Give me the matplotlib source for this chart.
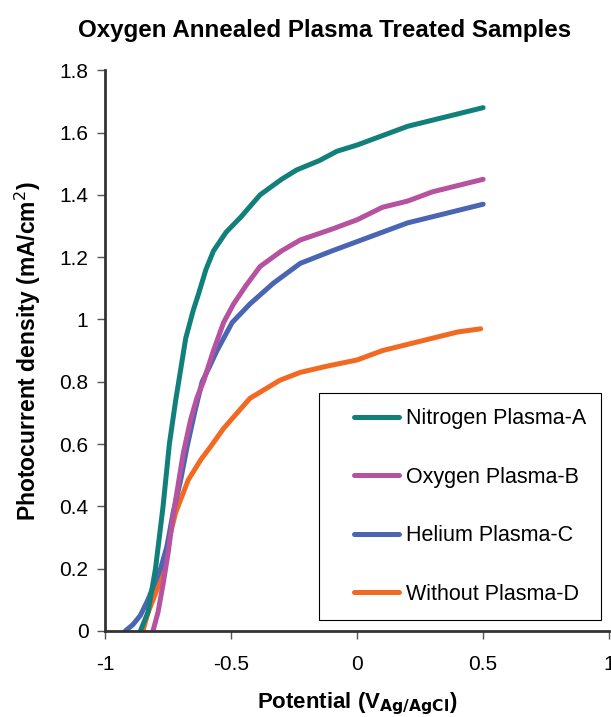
"""Photocurrent vs potential for oxygen annealed, plasma treated samples."""
import matplotlib

matplotlib.use('Agg')
import matplotlib.pyplot as plt
import numpy as np
from matplotlib.legend_handler import HandlerLine2D

plt.rcParams['font.family'] = ['Liberation Sans', 'DejaVu Sans']

# values (potential in V, current in mA/cm2)
nitrogen_x = [-0.86, -0.83, -0.80, -0.77, -0.745, -0.72, -0.70, -0.68, -0.65, -0.63,
              -0.60, -0.57, -0.52, -0.46, -0.385, -0.30, -0.24, -0.15, -0.08, 0.00,
              0.10, 0.20, 0.30, 0.40, 0.50]
nitrogen_y = [0.00, 0.06, 0.20, 0.40, 0.60, 0.74, 0.84, 0.94, 1.03, 1.08,
              1.16, 1.22, 1.28, 1.33, 1.40, 1.45, 1.48, 1.51, 1.54, 1.56,
              1.59, 1.62, 1.64, 1.66, 1.68]

oxygen_x = [-0.81, -0.79, -0.77, -0.75, -0.73, -0.71, -0.69, -0.66, -0.635, -0.61,
            -0.57, -0.53, -0.49, -0.44, -0.385, -0.30, -0.226, -0.10, 0.00, 0.10,
            0.20, 0.30, 0.40, 0.50]
oxygen_y = [0.00, 0.06, 0.15, 0.25, 0.37, 0.47, 0.57, 0.68, 0.75, 0.80,
            0.90, 0.99, 1.05, 1.11, 1.17, 1.22, 1.255, 1.29, 1.32, 1.36,
            1.38, 1.41, 1.43, 1.45]

helium_x = [-0.92, -0.89, -0.86, -0.83, -0.80, -0.78, -0.755, -0.73, -0.70, -0.675,
            -0.645, -0.615, -0.585, -0.556, -0.496, -0.425, -0.333, -0.226, -0.10, 0.00,
            0.10, 0.20, 0.30, 0.40, 0.50]
helium_y = [0.00, 0.02, 0.05, 0.10, 0.16, 0.20, 0.27, 0.38, 0.485, 0.59,
            0.70, 0.80, 0.85, 0.90, 0.99, 1.05, 1.116, 1.18, 1.22, 1.25,
            1.28, 1.31, 1.33, 1.35, 1.37]

without_x = [-0.85, -0.83, -0.80, -0.78, -0.754, -0.72, -0.67, -0.62, -0.583, -0.53,
             -0.476, -0.425, -0.306, -0.226, -0.12, 0.00, 0.10, 0.20, 0.30, 0.40,
             0.49]
without_y = [0.00, 0.058, 0.12, 0.164, 0.27, 0.38, 0.485, 0.55, 0.59, 0.65,
             0.70, 0.747, 0.805, 0.83, 0.85, 0.87, 0.90, 0.92, 0.94, 0.96,
             0.97]

labels = ['Nitrogen Plasma-A', 'Oxygen Plasma-B', 'Helium Plasma-C', 'Without Plasma-D']
colors = ['#12807a', '#b6529f', '#4a66b2', '#f26a22']


class ShiftedLine(HandlerLine2D):
    # legend line starts a bit in from the frame, like the original
    def get_xdata(self, legend, xdescent, ydescent, width, height, fontsize):
        xdata = np.array([-xdescent + 0.31 * width, -xdescent + width])
        return xdata, np.array([-xdescent + 0.65 * width])


fig = plt.figure(figsize=(6.11, 7.17), dpi=100)
ax = fig.add_axes([0.172, 0.120, 0.825, 0.782])

series = [(nitrogen_x, nitrogen_y), (oxygen_x, oxygen_y),
          (helium_x, helium_y), (without_x, without_y)]
# draw in reverse so teal sits on top like the original
for (xs, ys), lab, c in reversed(list(zip(series, labels, colors))):
    ax.plot(xs, ys, color=c, lw=3.6, label=lab, solid_capstyle='round',
            solid_joinstyle='round')

ax.set_xlim(-1, 1)
ax.set_ylim(0, 1.8)
ax.set_xticks([-1, -0.5, 0, 0.5, 1])
ax.set_xticklabels(['-1', '-0.5', '0', '0.5', '1'])
ax.set_yticks([0, 0.2, 0.4, 0.6, 0.8, 1.0, 1.2, 1.4, 1.6, 1.8])
ax.set_yticklabels(['0', '0.2', '0.4', '0.6', '0.8', '1', '1.2', '1.4', '1.6', '1.8'])

for side in ('top', 'right'):
    ax.spines[side].set_visible(False)
for side in ('left', 'bottom'):
    ax.spines[side].set_linewidth(2)
    ax.spines[side].set_color('#333333')
ax.tick_params(direction='out', length=6, width=1, color='#555555',
               labelsize=15, pad=6)
ax.tick_params(axis='x', pad=11)

ax.set_title('Oxygen Annealed Plasma Treated Samples', fontsize=17.4,
             fontweight='bold', pad=24, x=0.435)
ax.set_ylabel('Photocurrent density (mA/cm$^2$)', fontsize=16.5, fontweight='bold',
              labelpad=12)
ax.set_xlabel(r'Potential (V$_{\mathbf{Ag/AgCl}}$)', fontsize=16, fontweight='bold',
              labelpad=12)

handles, labs = ax.get_legend_handles_labels()
leg = ax.legend(handles[::-1], labs[::-1], loc='lower left',
                bbox_to_anchor=(0.425, 0.02, 0.559, 0.415), mode='expand',
                fontsize=15.5, labelspacing=1.74, borderpad=0.7,
                handlelength=3.0, handletextpad=0.33, borderaxespad=0,
                fancybox=False, framealpha=1,
                handler_map={matplotlib.lines.Line2D: ShiftedLine()})
leg.get_frame().set_edgecolor('black')
leg.get_frame().set_linewidth(0.8)

fig.savefig('out.png', dpi=100)
